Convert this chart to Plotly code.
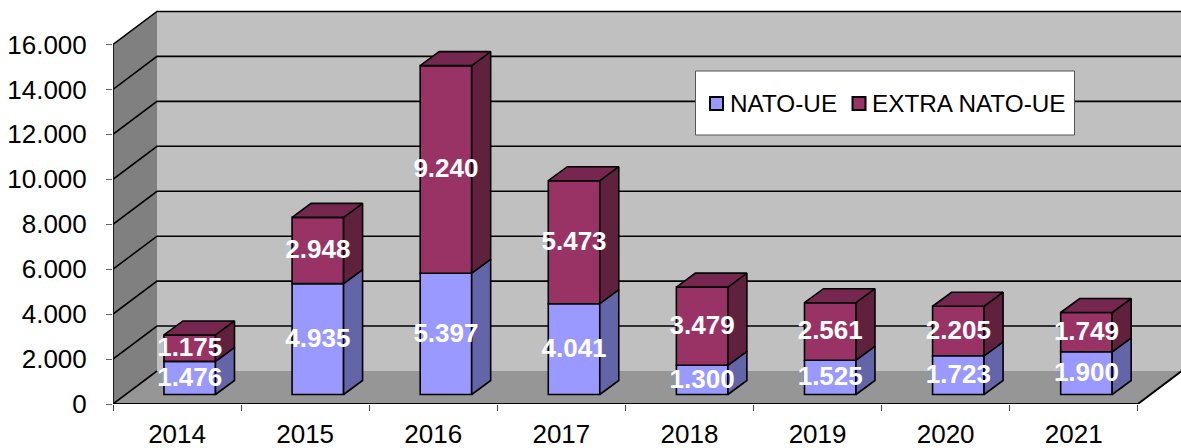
import plotly.graph_objects as go

years = ["2014", "2015", "2016", "2017", "2018", "2019", "2020", "2021"]
nato_ue = [1476, 4935, 5397, 4041, 1300, 1525, 1723, 1900]
extra_nato_ue = [1175, 2948, 9240, 5473, 3479, 2561, 2205, 1749]
y_ticks = [0, 2000, 4000, 6000, 8000, 10000, 12000, 14000, 16000]
y_labels = ["0", "2.000", "4.000", "6.000", "8.000", "10.000", "12.000", "14.000", "16.000"]
series_names = ["NATO-UE", "EXTRA NATO-UE"]

FONT = "Liberation Sans"
PX_X, PX_Y = 128.1, 22.47 / 1000     # pixels per category / per value unit
X_MAX = 1068 / PX_X
Y_MAX = 404 / PX_Y
WALL_DX, WALL_DY = 44 / PX_X, 33 / PX_Y
BAR_DX, BAR_DY = 19 / PX_X, 14 / PX_Y
BAR_SHIFT, BAR_LIFT = 0.599, 9.5 / PX_Y
BAR_W = 51.5 / PX_X
N = len(years)
FRONT = ["#9999FF", "#993366"]


def poly(points):
    return "M" + "L".join(f"{x},{y}" for x, y in points) + "Z"


def open_path(points):
    return "M" + "L".join(f"{x},{y}" for x, y in points)


def px(x):
    return (x - 113) / 1068


def py(y):
    return 1 - y / 404


shapes = []
top = y_ticks[-1]
# back wall, side wall, floor
shapes.append(dict(type="path", path=poly([(WALL_DX, WALL_DY), (X_MAX + 1, WALL_DY), (X_MAX + 1, top + WALL_DY), (WALL_DX, top + WALL_DY)]),
                   fillcolor="#C0C0C0", line=dict(width=0), layer="below"))
shapes.append(dict(type="path", path=poly([(0, 0), (WALL_DX, WALL_DY), (WALL_DX, top + WALL_DY), (0, top)]),
                   fillcolor="#808080", line=dict(width=0), layer="below"))
shapes.append(dict(type="path", path=poly([(0, 0), (N, 0), (N + WALL_DX, WALL_DY), (X_MAX + 1, WALL_DY), (WALL_DX, WALL_DY)]),
                   fillcolor="#969696", line=dict(width=0), layer="below"))
# grid lines on the walls
for t in y_ticks:
    if t == 0:
        pts = [(0, 0), (WALL_DX, WALL_DY)]
    else:
        pts = [(0, t), (WALL_DX, t + WALL_DY), (X_MAX + 1, t + WALL_DY)]
    shapes.append(dict(type="path", path=open_path(pts), line=dict(color="black", width=1.6), layer="below"))
shapes.append(dict(type="path", path=open_path([(0, 0), (0, top)]), line=dict(color="black", width=1.6), layer="below"))
shapes.append(dict(type="path", path=open_path([(0, 0), (N, 0), (N + WALL_DX, WALL_DY)]), line=dict(color="black", width=2), layer="below"))
# legend box and swatches
shapes.append(dict(type="rect", xref="paper", yref="paper",
                   x0=px(695.5), x1=px(1074.5), y0=py(135), y1=py(71),
                   fillcolor="white", line=dict(color="#555555", width=1), layer="above"))
annotations = []
for name, color, sw_left, text_left in zip(series_names, FRONT, (710, 852.5), (729, 870.5)):
    shapes.append(dict(type="rect", xref="paper", yref="paper",
                       x0=px(sw_left), x1=px(sw_left + 13), y0=py(110), y1=py(97),
                       fillcolor=color, line=dict(color="black", width=2), layer="above"))
    annotations.append(dict(text=name, xref="paper", yref="paper", x=px(text_left - 1), y=py(103.5),
                            xanchor="left", yanchor="middle", showarrow=False,
                            font=dict(family=FONT, size=24.3, color="black")))

fig = go.Figure()


def faces(bases, values):
    top_x, top_y, side_x, side_y = [], [], [], []
    for i, (b, v) in enumerate(zip(bases, values)):
        x0 = i + BAR_SHIFT - BAR_W / 2
        x1 = i + BAR_SHIFT + BAR_W / 2
        y0, y1 = b, b + v
        top_x += [x0, x1, x1 + BAR_DX, x0 + BAR_DX, x0, None]
        top_y += [y1, y1, y1 + BAR_DY, y1 + BAR_DY, y1, None]
        side_x += [x1, x1 + BAR_DX, x1 + BAR_DX, x1, x1, None]
        side_y += [y0, y0 + BAR_DY, y1 + BAR_DY, y1, y0, None]
    return top_x, top_y, side_x, side_y


def add_series(name, values, bases, front, side, roof):
    fig.add_trace(go.Bar(
        name=name, x=[i + BAR_SHIFT for i in range(N)], y=values, base=bases, width=BAR_W,
        marker=dict(color=front, line=dict(color="black", width=1.6)), hoverinfo="skip"))
    tx, ty, sx, sy = faces(bases, values)
    fig.add_trace(go.Scatter(x=sx, y=sy, mode="lines", fill="toself", fillcolor=side,
                             line=dict(color="black", width=1.6), showlegend=False, hoverinfo="skip"))
    if roof:
        fig.add_trace(go.Scatter(x=tx, y=ty, mode="lines", fill="toself", fillcolor=roof,
                                 line=dict(color="black", width=1.6), showlegend=False, hoverinfo="skip"))


bases_a = [BAR_LIFT] * N
bases_b = [BAR_LIFT + v for v in nato_ue]
add_series(series_names[0], nato_ue, bases_a, FRONT[0], "#6464A8", None)
add_series(series_names[1], extra_nato_ue, bases_b, FRONT[1], "#60213F", "#76274F")


def fmt(v):
    return f"{v:,}".replace(",", ".")


LABEL_DROP = 1.5 / PX_Y
for values, bases in ((nato_ue, bases_a), (extra_nato_ue, bases_b)):
    fig.add_trace(go.Scatter(
        x=[i + BAR_SHIFT for i in range(N)],
        y=[b + v / 2 - LABEL_DROP for b, v in zip(bases, values)],
        text=[fmt(v) for v in values], mode="text", textposition="middle center",
        textfont=dict(family=FONT, size=26, color="white", weight="bold"),
        showlegend=False, hoverinfo="skip", cliponaxis=False))

fig.update_layout(
    width=1181, height=448, margin=dict(l=113, r=0, t=0, b=44),
    paper_bgcolor="white", plot_bgcolor="rgba(0,0,0,0)",
    barmode="overlay", shapes=shapes, annotations=annotations, showlegend=False,
    font=dict(family=FONT, size=26, color="black"),
    xaxis=dict(range=[0, X_MAX], tickmode="array", tickvals=[i + 0.5 for i in range(N)], ticktext=years,
               ticks="", showgrid=False, zeroline=False, showline=False, ticklabelstandoff=12,
               minor=dict(tickmode="array", tickvals=list(range(N + 1)), ticks="outside", ticklen=6,
                          tickcolor="#444444", tickwidth=1, showgrid=False)),
    yaxis=dict(range=[0, Y_MAX], tickmode="array", tickvals=y_ticks, ticktext=y_labels,
               ticks="outside", ticklen=6, tickcolor="#666666", tickwidth=1, showgrid=False, zeroline=False,
               showline=False, ticklabelstandoff=14),
)

fig.write_html("out.html", config=dict(displayModeBar=False),
               post_script="document.body.style.margin='0';document.documentElement.style.overflow='hidden';")
